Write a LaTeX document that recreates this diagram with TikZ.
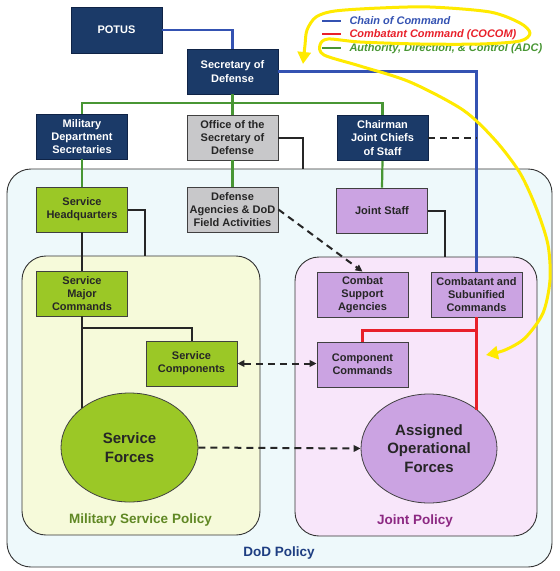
\documentclass[tikz,border=0pt]{standalone}
\usepackage{fontspec}
\setmainfont{Liberation Sans}
\usepackage{xcolor}
\usetikzlibrary{arrows.meta, positioning, shapes.geometric}

\definecolor{navybox}{RGB}{27,58,104}
\definecolor{navyedge}{RGB}{15,35,70}
\definecolor{greybox}{RGB}{200,200,202}
\definecolor{limebox}{RGB}{155,200,38}
\definecolor{lilacbox}{RGB}{203,163,226}
\definecolor{dodfill}{RGB}{238,249,251}
\definecolor{milfill}{RGB}{246,250,218}
\definecolor{jointfill}{RGB}{248,230,250}
\definecolor{cocblue}{RGB}{52,82,178}
\definecolor{cocomred}{RGB}{232,32,42}
\definecolor{adcgreen}{RGB}{72,150,52}
\definecolor{milgreen}{RGB}{96,136,36}
\definecolor{jointpurple}{RGB}{140,40,130}
\definecolor{dodblue}{RGB}{30,62,130}
\definecolor{scribble}{RGB}{255,234,0}

\begin{document}
\begin{tikzpicture}[x=1pt, y=-1pt,
		box/.style={draw=black!75, line width=0.8pt, minimum width=91pt, minimum height=45pt, inner sep=1pt, align=center, font=\fontsize{11}{13.3}\selectfont\bfseries, text=black!85},
		navy/.style={box, fill=navybox, draw=navyedge, text=white},
		grey/.style={box, fill=greybox},
		lime/.style={box, fill=limebox},
		lilac/.style={box, fill=lilacbox},
		force/.style={ellipse, draw=black!75, line width=0.8pt, minimum width=137pt, minimum height=109pt, inner sep=0pt, align=center, font=\fontsize{15}{18.3}\selectfont\bfseries, text=black!85},
		policy/.style={draw=black!80, line width=0.9pt, rounded corners=24pt},
		policylabel/.style={font=\fontsize{13.5}{16}\selectfont\bfseries},
		legendtext/.style={anchor=west, font=\fontsize{11}{12}\selectfont\bfseries\itshape},
		coc/.style={cocblue, line width=2.2pt},
		cocom/.style={cocomred, line width=2.2pt},
		adc/.style={adcgreen, line width=2.2pt},
		plain/.style={black!85, line width=2pt},
		coord/.style={black!85, line width=2pt, dash pattern=on 7pt off 5pt},
		tip/.tip={Triangle[length=7pt, width=6.5pt]}]
		% Regions, nodes and lines:
		\useasboundingbox (0,0) rectangle (560,571);
		\node[policy, fill=dodfill, minimum width=545pt, minimum height=398pt](dod) at (279.5,368){};
		\node[policy, fill=milfill, minimum width=238pt, minimum height=279pt](milsvc) at (141,395.5){};
		\node[policy, fill=jointfill, minimum width=242pt, minimum height=279pt](joint) at (416,396.5){};
		\node[policylabel, text=dodblue](dodlabel) at (279,553){DoD Policy};
		\node[policylabel, text=milgreen](millabel) at (140.5,520){Military Service Policy};
		\node[policylabel, text=jointpurple](jointlabel) at (415,521.5){Joint Policy};
		\node[navy, minimum height=46pt](potus) at (116.5,30){POTUS};
		\node[navy](secdef) at (232.5,71.5){Secretary of\\Defense};
		\node[navy](mildep) at (82,136.5){Military\\Department\\Secretaries};
		\node[grey](osd) at (232.5,137.5){Office of the\\Secretary of\\Defense};
		\node[navy](cjcs) at (382.5,138){Chairman\\Joint Chiefs\\of Staff};
		\node[lime](shq) at (82,209.5){Service\\Headquarters};
		\node[grey](defag) at (232.5,209.5){Defense\\Agencies \& DoD\\Field Activities};
		\node[lilac](jstaff) at (382,210.5){Joint Staff};
		\node[lime](smc) at (82,293.5){Service\\Major\\Commands};
		\node[lilac](csa) at (362.5,294.5){Combat\\Support\\Agencies};
		\node[lilac](cscmd) at (476.5,294.5){Combatant and\\Subunified\\Commands};
		\node[lime](scomp) at (191.5,363.5){Service\\Components};
		\node[lilac](ccmd) at (362.5,364.5){Component\\Commands};
		\node[force, fill=limebox](sforces) at (129.5,447.5){Service\\Forces};
		\node[force, fill=lilacbox, minimum width=136pt](aof) at (429,448.5){Assigned\\Operational\\Forces};
		\draw[coc] (potus.east) -| (secdef.north);
		\draw[coc] (secdef.east) -| (cscmd.north);
		\draw[adc] (secdef.south) -- (osd.north);
		\draw[adc] (mildep.north) |- ([yshift=12pt]osd.north) -| (cjcs.north);
		\draw[adc] (mildep.south) -- (shq.north);
		\draw[adc] (osd.south) -- (defag.north);
		\draw[adc] (cjcs.south) -- (jstaff.north);
		\draw[plain] (osd.east) -| ([xshift=23.5pt]dod.north);
		\draw[coord] (cjcs.east) -- (cjcs.east -| cscmd.north);
		\draw[plain] (shq.east) -| ([xshift=4pt]milsvc.north);
		\draw[plain] (jstaff.east) -| ([xshift=29pt]joint.north);
		\draw[plain] (shq.south) -- (smc.north);
		\draw[plain] (smc.south) -- (smc.south |- sforces.140);
		\draw[plain] (scomp.north) |- ([yshift=-12pt]smc.south);
		\draw[cocom] (cscmd.south) -- (cscmd.south |- aof.39);
		\draw[cocom] (ccmd.north) |- ([yshift=-13pt]cscmd.south);
		\draw[coord, -tip] (defag.east) -- (csa.north);
		\draw[coord, tip-tip] (scomp.east) -- (scomp.east -| ccmd.west);
		\draw[coord, -tip] (sforces.east) -- (aof.west);
		% Legend:
		\draw[coc] (322,21) -- (341,21);
		\draw[cocom] (322,34) -- (341,34);
		\draw[adc] (322,48) -- (341,48);
		\node[legendtext, text=cocblue](legcoc) at (346,21){Chain of Command};
		\node[legendtext, text=cocomred](legcocom) at (346,34.5){Combatant Command (COCOM)};
		\node[legendtext, text=adcgreen](legadc) at (346,48.5){Authority, Direction, \& Control (ADC)};
		% Marker scribble:
		\draw[scribble, line width=3pt, line cap=round, line join=round, {Triangle[length=12pt, width=13pt]}-{Triangle[length=12pt, width=13pt]}]
			plot[smooth] coordinates {(303,64) (305,45) (307,30) (316,17) (335,11) (380,8) (430,7) (490,12) (520,23) (530,33) (520,41) (480,44) (420,44) (360,42) (328,39) (320,45) (324,55) (360,66) (410,82) (463,110) (495,140) (520,173) (537,210) (548,245) (550,280) (543,313) (525,338) (505,350) (486,355)};
	\end{tikzpicture}
\end{document}
